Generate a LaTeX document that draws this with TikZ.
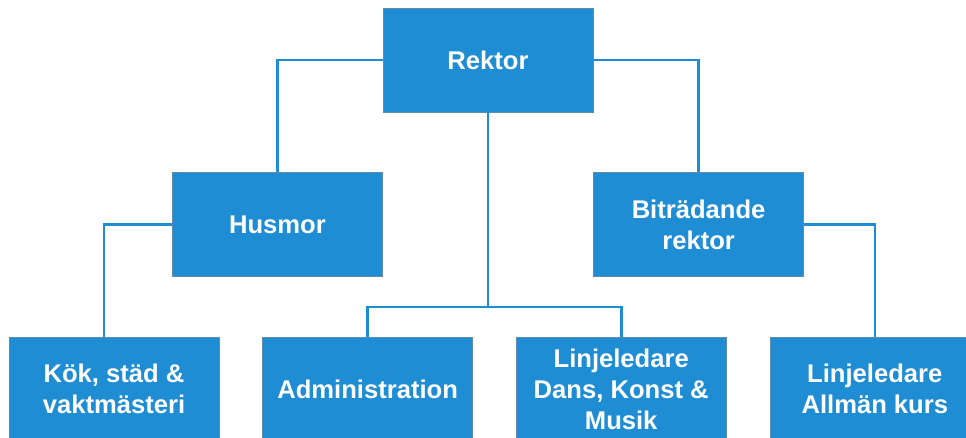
\documentclass[tikz,border=0pt]{standalone}
\usepackage{fontspec}
\setmainfont{Liberation Sans}
\usetikzlibrary{positioning}
\definecolor{orgblue}{RGB}{31,141,212}
\definecolor{orgedge}{RGB}{95,140,172}

\begin{document}
\begin{tikzpicture}[
    x=1pt, y=-1pt,
    orgnode/.style={rectangle, draw=orgedge, line width=0.6pt, fill=orgblue, text=white,
        minimum width=210pt, minimum height=104pt, align=center,
        font=\fontsize{25.6}{31}\selectfont\bfseries},
    orgline/.style={draw=orgblue, line width=2.6pt},
    node distance=60pt and 0pt,
    ]
    \useasboundingbox (0,0) rectangle (966,438);

    %Nodes
    \node[orgnode]      (rektor)  at (488,60)                     {Rektor};
    \node[orgnode]      (husmor)  [below left=of rektor.south west,anchor=north east] {Husmor};
    \node[orgnode]      (bitr)    [below right=of rektor.south east,anchor=north west] {Biträdande\\rektor};
    \node[orgnode]      (kok)     at (114,389)                    {Kök, städ \&\\vaktmästeri};
    \node[orgnode]      (admin)   [right=43pt of kok]             {Administration};
    \node[orgnode]      (dans)    [right=43pt of admin]           {Linjeledare\\Dans, Konst \&\\Musik};
    \node[orgnode]      (allman)  [right=43pt of dans]            {Linjeledare\\Allmän kurs};

    \coordinate (fork) at (rektor.south |- 0,307);

    %Lines
    \draw[orgline] (rektor.west) -| (husmor.north);
    \draw[orgline] (rektor.east) -| (bitr.north);
    \draw[orgline] (rektor.south) -- (fork);
    \draw[orgline] (admin.north) |- (fork) -| (dans.north);
    \draw[orgline] (husmor.west) -| ([xshift=-10pt]kok.north);
    \draw[orgline] (bitr.east) -| (allman.north);

    \end{tikzpicture}
\end{document}
